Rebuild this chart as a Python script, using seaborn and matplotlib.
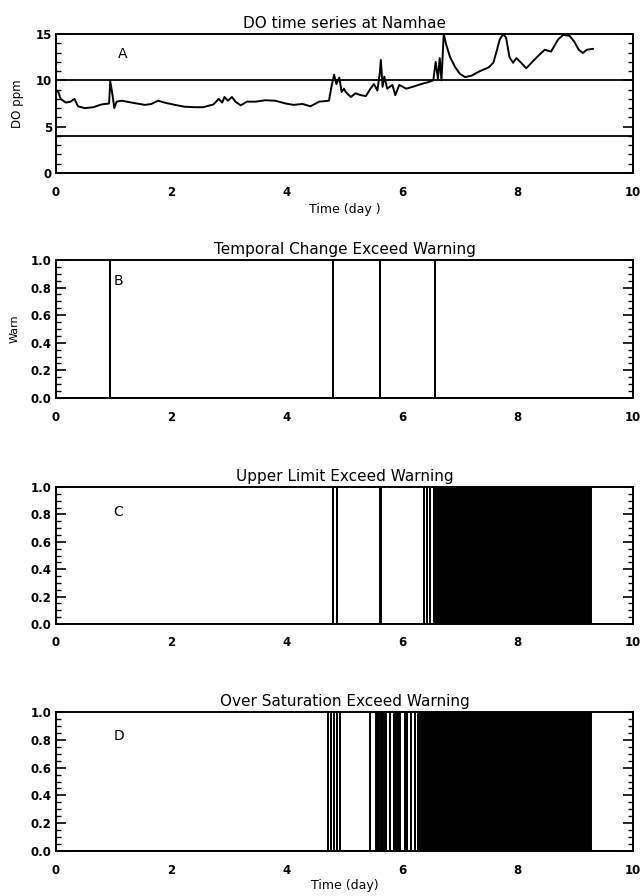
import numpy as np
import pandas as pd
import matplotlib
matplotlib.use("Agg")
import matplotlib.pyplot as plt
import seaborn as sns
from matplotlib.ticker import MultipleLocator, AutoMinorLocator, FormatStrFormatter

# ---------------- data ----------------
day = [0.00, 0.04, 0.08, 0.17, 0.25, 0.32, 0.38, 0.50, 0.65, 0.79, 0.92, 0.94, 0.98, 1.01,
       1.05, 1.14, 1.31, 1.54, 1.65, 1.77, 1.88, 2.06, 2.23, 2.41, 2.55, 2.73, 2.82, 2.88,
       2.92, 2.98, 3.05, 3.11, 3.20, 3.31, 3.46, 3.63, 3.80, 3.98, 4.12, 4.27, 4.41, 4.56,
       4.73, 4.78, 4.82, 4.86, 4.91, 4.95, 4.99, 5.02, 5.11, 5.19, 5.28, 5.37, 5.45, 5.51,
       5.57, 5.61, 5.63, 5.66, 5.69, 5.74, 5.83, 5.88, 5.95, 6.07, 6.18, 6.33, 6.45, 6.54,
       6.58, 6.62, 6.65, 6.68, 6.72, 6.76, 6.83, 6.92, 7.00, 7.09, 7.20, 7.35, 7.50, 7.58,
       7.63, 7.69, 7.75, 7.80, 7.86, 7.92, 7.98, 8.06, 8.15, 8.24, 8.35, 8.47, 8.58, 8.70,
       8.79, 8.90, 8.98, 9.06, 9.13, 9.20, 9.31]
do_ppm = [8.9, 8.75, 8.0, 7.6, 7.7, 8.0, 7.2, 7.0, 7.1, 7.4, 7.5, 9.9, 8.4, 7.0,
          7.7, 7.8, 7.6, 7.35, 7.45, 7.8, 7.6, 7.35, 7.15, 7.1, 7.1, 7.4, 8.0, 7.6,
          8.2, 7.8, 8.2, 7.7, 7.3, 7.7, 7.7, 7.85, 7.8, 7.5, 7.35, 7.45, 7.2, 7.7,
          7.8, 9.5, 10.6, 9.6, 10.3, 8.75, 9.1, 8.75, 8.2, 8.6, 8.4, 8.3, 9.1, 9.6,
          8.9, 10.7, 12.2, 9.3, 10.4, 9.1, 9.5, 8.4, 9.5, 9.1, 9.3, 9.6, 9.8, 10.0,
          12.0, 10.2, 12.4, 10.0, 15.0, 13.9, 12.5, 11.4, 10.7, 10.35, 10.5, 11.0, 11.4, 11.9,
          13.0, 14.4, 15.0, 14.6, 12.5, 11.9, 12.4, 11.9, 11.3, 11.9, 12.6, 13.3, 13.1, 14.4,
          14.9, 14.8, 14.2, 13.3, 12.95, 13.3, 13.4]

upper_limit = 10.0
lower_limit = 4.0

# warning periods (start day, end day); equal start/end = single warning flag
temporal_warn = [(0.93, 0.93), (4.80, 4.80), (5.62, 5.62), (6.57, 6.57)]
upper_warn = [(4.80, 4.80), (4.87, 4.87), (5.62, 5.63), (6.37, 6.37), (6.43, 6.43),
              (6.49, 6.49), (6.55, 9.27)]
oversat_warn = [(4.71, 4.71), (4.76, 4.76), (4.82, 4.82), (4.87, 4.87), (4.93, 4.93),
                (5.45, 5.45), (5.55, 5.60), (5.63, 5.67), (5.70, 5.72), (5.78, 5.78),
                (5.86, 5.92), (5.95, 5.97), (6.04, 6.04), (6.09, 6.09), (6.16, 6.16),
                (6.23, 6.23), (6.27, 9.28)]

titles = ["DO time series at Namhae", "Temporal Change Exceed Warning",
          "Upper Limit Exceed Warning", "Over Saturation Exceed Warning"]
panel_letters = ["A", "B", "C", "D"]
xticks = [0, 2, 4, 6, 8, 10]

# ---------------- style ----------------
sns.set_theme(style="white")
plt.rcParams["font.family"] = ["DejaVu Sans"]
plt.rcParams.update({
    "axes.edgecolor": "black",
    "axes.labelcolor": "black",
    "axes.titlecolor": "black",
    "axes.linewidth": 1.4,
    "xtick.direction": "in",
    "ytick.direction": "in",
    "xtick.color": "black",
    "ytick.color": "black",
    "text.color": "black",
})

fig = plt.figure(figsize=(6.4, 8.96), dpi=100)
L, W = 56 / 640, (633 - 56) / 640
rows_px = [(34, 173), (260, 398), (487, 624), (712, 851)]
axes = []
for top, bot in rows_px:
    axes.append(fig.add_axes([L, 1 - bot / 896, W, (bot - top) / 896]))


def style_axis(ax, major, minor_n, fmt):
    ax.set_xlim(0, 10)
    ax.set_xticks(xticks)
    ax.xaxis.set_major_formatter(FormatStrFormatter("%d"))
    ax.tick_params(axis="x", length=0, pad=9, labelsize=8.5)
    ax.yaxis.set_major_locator(MultipleLocator(major))
    ax.yaxis.set_minor_locator(AutoMinorLocator(minor_n))
    ax.yaxis.set_major_formatter(FormatStrFormatter(fmt))
    ax.tick_params(axis="y", which="major", length=7, width=1.2, left=True, right=True,
                   labelsize=8.5, pad=3)
    ax.tick_params(axis="y", which="minor", length=3.5, width=1.0, left=True, right=True)
    for lab in ax.get_xticklabels() + ax.get_yticklabels():
        lab.set_fontweight("bold")
    for s in ax.spines.values():
        s.set_visible(True)
        s.set_color("black")


# ---- panel A ----
ax = axes[0]
dfA = pd.DataFrame({"day": day, "do": do_ppm})
sns.lineplot(data=dfA, x="day", y="do", ax=ax, color="black", linewidth=1.4,
             estimator=None, sort=False)
ax.axhline(upper_limit, color="black", linewidth=1.3)
ax.axhline(lower_limit, color="black", linewidth=1.3)
ax.set_ylim(0, 15)
style_axis(ax, 5, 5, "%d")
ax.set_ylabel("DO ppm", fontsize=8.5, labelpad=8)
ax.set_xlabel("Time (day )", fontsize=9, labelpad=3)
ax.set_title(titles[0], fontsize=11, pad=4)
ax.text(1.08, 12.8, panel_letters[0], fontsize=10, va="center")


def step_series(spans):
    xs, ys = [0.0], [0.0]
    for a, b in spans:
        xs += [a, a, b, b]
        ys += [0.0, 1.0, 1.0, 0.0]
    xs.append(10.0)
    ys.append(0.0)
    return pd.DataFrame({"day": xs, "warn": ys})


warn_sets = [temporal_warn, upper_warn, oversat_warn]
letter_pos = [(1.0, 0.85), (1.0, 0.82), (1.0, 0.83)]
for i, spans in enumerate(warn_sets):
    ax = axes[i + 1]
    df = step_series(spans)
    ax.fill_between(df["day"], 0, df["warn"], color="black", linewidth=0)
    sns.lineplot(data=df, x="day", y="warn", ax=ax, color="black", linewidth=1.4,
                 estimator=None, sort=False)
    ax.set_ylim(0, 1.0)
    style_axis(ax, 0.2, 4, "%.1f")
    ax.set_ylabel("")
    ax.set_xlabel("")
    ax.set_title(titles[i + 1], fontsize=11, pad=4)
    ax.text(letter_pos[i][0], letter_pos[i][1], panel_letters[i + 1], fontsize=10,
            va="center")

axes[1].set_ylabel("Warn", fontsize=8, labelpad=8)
axes[3].set_xlabel("Time (day)", fontsize=9, labelpad=2)

fig.savefig("out.png", dpi=100)
